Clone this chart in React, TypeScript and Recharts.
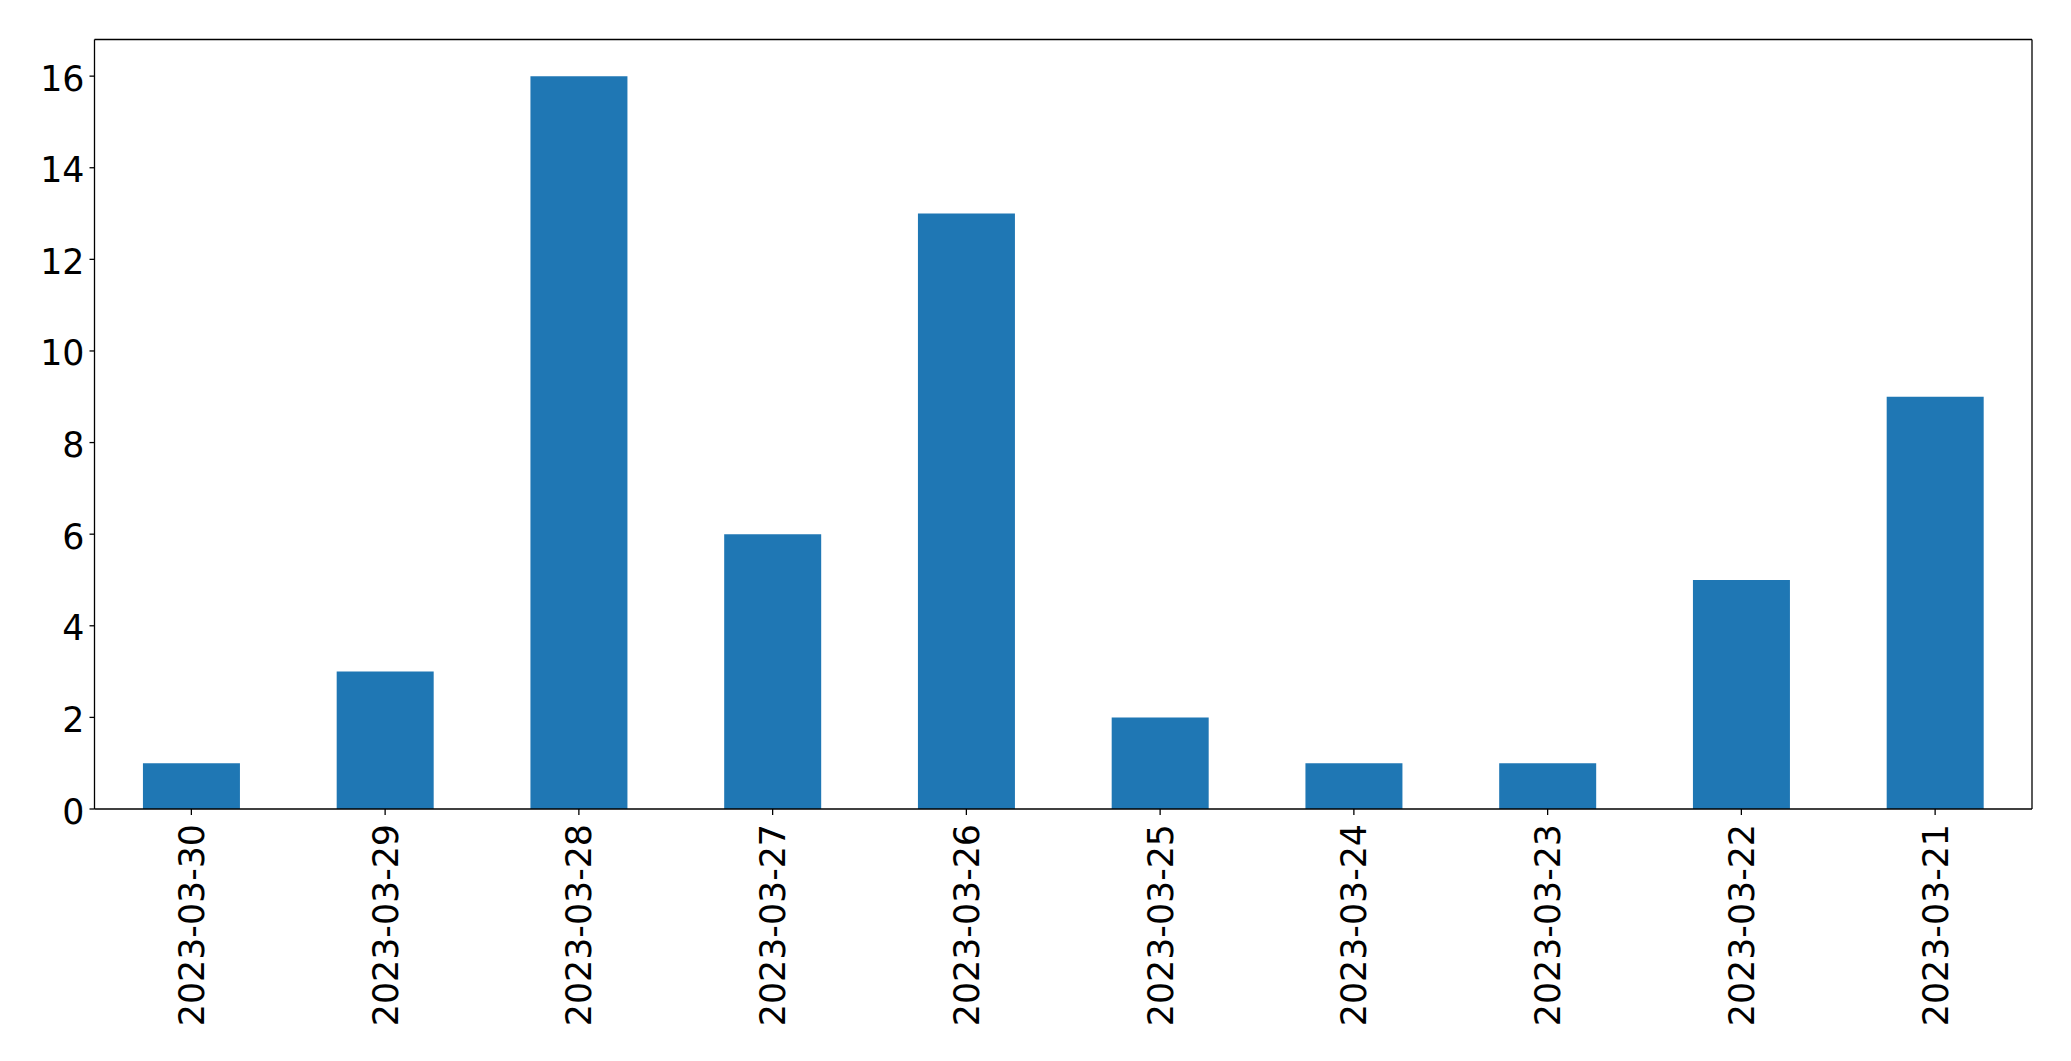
import React from 'react';
import { BarChart, Bar, XAxis, YAxis } from 'recharts';

const dates = ['2023-03-30', '2023-03-29', '2023-03-28', '2023-03-27', '2023-03-26', '2023-03-25', '2023-03-24', '2023-03-23', '2023-03-22', '2023-03-21'];
const counts = [1, 3, 16, 6, 13, 2, 1, 1, 5, 9];
const yTicks = [0, 2, 4, 6, 8, 10, 12, 14, 16];

const data = dates.map((d, i) => ({ date: d, count: counts[i] }));

const FONT = 'DejaVu Sans, sans-serif';
const FS = 34.8;
const LINE = { stroke: '#000', strokeWidth: 1.3 };

const YTick = (props: any) => {
  const { x, y, payload } = props;
  return (
    <text x={x} y={y} dy={14.5} textAnchor="end" fontFamily={FONT} fontSize={FS} fill="#000">
      {payload.value}
    </text>
  );
};

const XTick = (props: any) => {
  const { x, y, payload } = props;
  return (
    <text x={x} y={y} dy="0.36em" textAnchor="end" transform={`rotate(-90, ${x}, ${y})`} fontFamily={FONT} fontSize={FS} fill="#000">
      {payload.value}
    </text>
  );
};

export default function App() {
  return (
    <div style={{ position: 'fixed', left: 0, top: 0, background: '#fff' }}>
      <BarChart width={2071} height={1061} data={data} margin={{ top: 38.5, right: 38, left: 0, bottom: 0 }} barCategoryGap="25%">
        <XAxis
          dataKey="date"
          height={252}
          tick={<XTick />}
          tickSize={6}
          tickMargin={9}
          interval={0}
          stroke="#000"
          axisLine={LINE}
          tickLine={LINE}
        />
        <XAxis xAxisId="top" dataKey="date" orientation="top" height={1} tick={false} tickLine={false} stroke="#000" axisLine={LINE} />
        <YAxis
          width={94.5}
          domain={[0, 16.8]}
          ticks={yTicks}
          tick={<YTick />}
          tickSize={5}
          tickMargin={5}
          interval={0}
          stroke="#000"
          axisLine={LINE}
          tickLine={LINE}
        />
        <YAxis yAxisId="right" orientation="right" width={1} domain={[0, 16.8]} tick={false} tickLine={false} stroke="#000" axisLine={LINE} />
        <Bar dataKey="count" fill="#1f77b4" isAnimationActive={false} />
      </BarChart>
    </div>
  );
}
